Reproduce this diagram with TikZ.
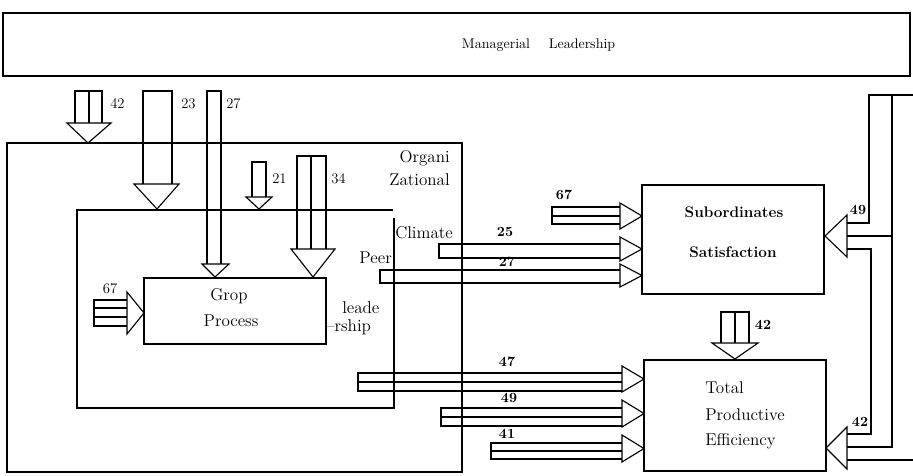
\documentclass[tikz,border=0pt]{standalone}
\tikzset{
  ln/.style={line width=0.85pt, line join=miter},
  box/.style={draw, line width=0.9pt, inner sep=0pt, rectangle},
  lab/.style={inner sep=0pt, font=\fontsize{11}{13}\selectfont},
  blab/.style={inner sep=0pt, font=\fontsize{10.5}{13}\selectfont\bfseries},
  txt/.style={inner sep=0pt, font=\fontsize{12.8}{15}\selectfont},
  btxt/.style={inner sep=0pt, font=\fontsize{11.5}{14}\selectfont\bfseries},
}
\begin{document}
\begin{tikzpicture}[x=0.75pt,y=-0.75pt]
\useasboundingbox (0,0) rectangle (913,475);

% ---- boxes
\node[box, minimum width=680.25pt, minimum height=47.25pt] (mgr) at (456.5,44.5) {};
\node[txt, font=\fontsize{10.5}{13}\selectfont] (mgrA) at (496,45) {Managerial};
\node[txt, font=\fontsize{10.5}{13}\selectfont] (mgrB) at (582,45) {Leadership};

\node[box, minimum width=341.25pt, minimum height=246.75pt] (org) at (234.5,307.5) {};
\draw[ln] (393,210) -- (77,210) -- (77,408) -- (394,408) -- (394,218);
\coordinate (inner) at (77,210);

\node[box, minimum width=136.5pt, minimum height=49.5pt] (grp) at (235,311) {};
\node[txt] (grpA) at (229,296) {Grop};
\node[txt] (grpB) at (231,321) {Process};

\node[box, minimum width=136.5pt, minimum height=81.75pt] (sub) at (733,239.5) {};
\node[btxt] (subA) at (734,212) {Subordinates};
\node[btxt] (subB) at (733,252) {Satisfaction};

\node[box, minimum width=136.5pt, minimum height=83.25pt] (eff) at (735,415.5) {};
\node[txt, anchor=west] (effA) at (705,388) {Total};
\node[txt, anchor=west] (effB) at (705,415) {Productive};
\node[txt, anchor=west] (effC) at (705,441) {Efficiency};

% ---- texts in organisation box
\node[txt, anchor=east] (orgA) at (450,158) {Organi};
\node[txt, anchor=east] (orgB) at (450,180) {Zational};
\node[txt, anchor=west] (clim) at (395,233) {Climate};
\node[txt, anchor=east] (peer) at (392,258) {Peer};
\node[txt, anchor=west] (lea) at (342,308) {leade};
\node[txt, anchor=west] (rsh) at (326,327) {\textendash rship};

% ---- down arrows
% 42 onto organisation
\draw[ln] (75,123) -- (75,91) -- (102,91) -- (102,123) (89,91) -- (89,123);
\draw[ln] (67,123) -- (111,123) -- (88,143) -- cycle;
\node[lab, anchor=west] (n42a) at (110,104) {42};
% 23
\draw[ln] (143,184) -- (143,91) -- (172,91) -- (172,184);
\draw[ln] (134,184) -- (179,184) -- (157,209) -- cycle;
\node[lab, anchor=west] (n23) at (181,104) {23};
% 27 (onto group process)
\draw[ln] (207,264) -- (207,91) -- (221,91) -- (221,264);
\draw[ln] (202,264) -- (229,264) -- (215,277) -- cycle;
\node[lab, anchor=west] (n27a) at (226,104) {27};
% 21
\draw[ln] (252,197) -- (252,162) -- (266,162) -- (266,197);
\draw[ln] (246,197) -- (272,197) -- (259,209) -- cycle;
\node[lab, anchor=west] (n21) at (272,179) {21};
% 34
\draw[ln] (297,249) -- (297,156) -- (326,156) -- (326,249) (311,156) -- (311,249);
\draw[ln] (291,249) -- (335,249) -- (313,277) -- cycle;
\node[lab, anchor=west] (n34) at (331,179) {34};
% 42 onto efficiency
\draw[ln] (721,343) -- (721,312) -- (749,312) -- (749,343) (735,312) -- (735,343);
\draw[ln] (712,343) -- (758,343) -- (735,359) -- cycle;
\node[blab] (n42b) at (763,325) {42};

% ---- right arrows
% 67 into group process
\draw[ln] (127,300) -- (94,300) -- (94,326) -- (127,326) (94,308) -- (127,308) (94,317) -- (127,317);
\draw[ln] (127,292) -- (127,334) -- (144,313) -- cycle;
\node[lab] (n67a) at (110,289) {67};
% 67 into subordinates
\draw[ln] (620,207) -- (552,207) -- (552,224) -- (620,224) (552,216) -- (620,216);
\draw[ln] (620,203) -- (620,229) -- (642,216) -- cycle;
\node[blab] (n67b) at (564,195) {67};
% 25
\draw[ln] (620,244) -- (439,244) -- (439,258) -- (620,258);
\draw[ln] (620,237) -- (620,261) -- (642,249) -- cycle;
\node[blab] (n25) at (505,232) {25};
% 27
\draw[ln] (620,270) -- (380,270) -- (380,283) -- (620,283);
\draw[ln] (620,264) -- (620,287) -- (642,275.5) -- cycle;
\node[blab] (n27b) at (507,262) {27};
% 47
\draw[ln] (622,373) -- (358,373) -- (358,391) -- (622,391) (358,382) -- (622,382);
\draw[ln] (622,366) -- (622,392) -- (644,379) -- cycle;
\node[blab] (n47) at (507,362) {47};
% 49
\draw[ln] (622,408) -- (441,408) -- (441,426) -- (622,426) (441,417) -- (622,417);
\draw[ln] (622,400) -- (622,427) -- (644,413.5) -- cycle;
\node[blab] (n49a) at (509,398) {49};
% 41
\draw[ln] (622,443) -- (491,443) -- (491,459) -- (622,459) (491,451) -- (622,451);
\draw[ln] (622,435) -- (622,462) -- (644,448.5) -- cycle;
\node[blab] (n41) at (507,434) {41};

% ---- feedback arrows on the right
\draw[ln] (847,215) -- (847,257) -- (825,236) -- cycle;
\draw[ln] (847,427) -- (847,469) -- (826,448) -- cycle;
\draw[ln] (847,223) -- (869,223) -- (869,95) -- (913,95);
\draw[ln] (892,95) -- (892,447) -- (847,447);
\draw[ln] (847,236) -- (892,236);
\draw[ln] (847,249) -- (871,249) -- (871,434) -- (847,434);
\draw[ln] (847,460) -- (913,460);
\node[blab] (n49b) at (858,210) {49};
\node[blab] (n42c) at (860,422) {42};
\end{tikzpicture}
\end{document}
